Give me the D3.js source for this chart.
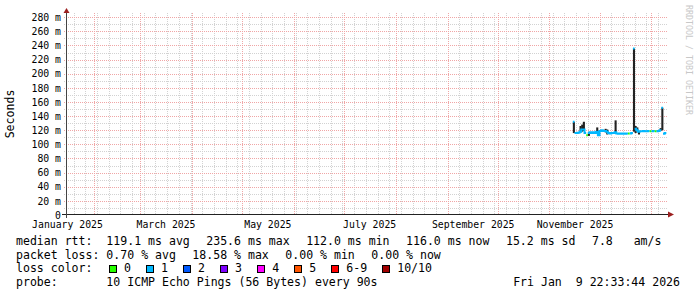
<!DOCTYPE html>
<html>
<head>
<meta charset="utf-8">
<script src="https://cdn.jsdelivr.net/npm/d3@7"></script>
<style>
  body { margin: 0; background: #fff; }
  text { font-family: "DejaVu Sans Mono", monospace; fill: #000; white-space: pre; }
</style>
</head>
<body>
<script>
// time range of the graph (360 days ending Jan 2026)
const startDate = new Date(2025, 0, 16);
const endDate = new Date(2026, 0, 11);

// tick labels
const xLabelMonths = ["2025-01", "2025-03", "2025-05", "2025-07", "2025-09", "2025-11"];
const yTicks = [0, 20, 40, 60, 80, 100, 120, 140, 160, 180, 200, 220, 240, 260, 280];

// one value per day, starting Nov 15 2025 (ms)
const firstDay = new Date(2025, 10, 15);
const median = [132, 116, 116, 116.5, 118, 121, 121, 116, 113, 116,
                117, 116, 117, 116, 118, 113, 119, 120, 119, 119,
                118, 116, 115.5, 116, 116, 117, 115.5, 115, 115.5, 115,
                115.5, 115, 115.5, 115.5, 115.5, 116, 235.6, 122, 120, 118,
                118.5, 118.5, 119, 118.5, 118.5, 119, 118.5, 118.5, 119, 118.5,
                118.5, 119, 120, 152, 115, 116];
const smokeLo = [116, 116, 116, 116.5, 117, 118, 119, 116, 113, 112,
                 117, 116, 117, 116, 117, 112, 119, 120, 119, 117,
                 114, 116, 115.5, 116, 116, 116, 115.5, 115, 115.5, 115,
                 115.5, 115, 115.5, 115.5, 115.5, 116, 118, 116, 119, 114,
                 118.5, 118.5, 119, 118.5, 118.5, 119, 118.5, 118.5, 119, 118.5,
                 118.5, 119, 119, 120, 115, 116];
const smokeHi = [132, 116, 116, 116.5, 126, 128, 132, 116, 113, 117,
                 117, 116, 117, 116, 124, 114, 119, 120, 119, 122,
                 121, 116, 115.5, 116, 116, 134, 115.5, 115, 115.5, 115,
                 115.5, 115, 115.5, 115.5, 115.5, 116, 235.6, 126, 124, 119,
                 118.5, 118.5, 119, 118.5, 118.5, 119, 118.5, 118.5, 119, 118.5,
                 118.5, 119, 123, 152, 115, 116];
const lossCount = [1, 1, 1, 1, 1, 1, 1, 1, 0, 1,
                   1, 1, 1, 1, 1, 1, 1, 1, 1, 1,
                   1, 1, 1, 1, 1, 1, 1, 1, 1, 1,
                   1, 1, 1, 0, 1, 1, 1, 1, 1, 1,
                   1, 1, 1, 1, 1, 1, 0, 1, 1, 0,
                   1, 1, 1, 1, 1, 1];

// legend
const lossLabels = ["0", "1", "2", "3", "4", "5", "6-9", "10/10"];
const lossColors = ["#26ff00", "#00b8ff", "#0059ff", "#7e00ff", "#ff00ff", "#ff5500", "#ff0000", "#a10000"];
const rttItems = ["median rtt:  119.1 ms avg", "235.6 ms max", "112.0 ms min", "116.0 ms now", "15.2 ms sd", "7.8   am/s"];
const lossItems = ["packet loss: 0.70 % avg", "18.58 % max", "0.00 % min", "0.00 % now"];
const probeText = "probe:       10 ICMP Echo Pings (56 Bytes) every 90s";
const stampText = "Fri Jan  9 22:33:44 2026";

const svg = d3.select("body").append("svg")
  .attr("width", 697)
  .attr("height", 297);

const x = d3.scaleTime().domain([startDate, endDate]).range([67, 668]);
const y = d3.scaleLinear().domain([0, 286]).range([215, 13]);

// grid: weekly minor, monthly major, 10/20 ms on y
let grid = svg.append("g").attr("shape-rendering", "crispEdges");
const minorColor = "#d2d2d2", majorColor = "#f0a6a6";
d3.timeMonday.range(startDate, endDate).forEach(d => {
  grid.append("line")
    .attr("x1", Math.round(x(d)) + 0.5).attr("x2", Math.round(x(d)) + 0.5)
    .attr("y1", y(286)).attr("y2", 215)
    .attr("stroke", minorColor).attr("stroke-dasharray", "1,1");
});
yTicks.forEach(v => {
  if (v == 0) return;
  let ym = Math.round(y(v - 10)) + 0.5;
  grid.append("line")
    .attr("x1", 64).attr("x2", 668).attr("y1", ym).attr("y2", ym)
    .attr("stroke", minorColor).attr("stroke-dasharray", "1,1");
});
d3.timeMonth.range(startDate, endDate).forEach(d => {
  grid.append("line")
    .attr("x1", Math.round(x(d)) + 0.5).attr("x2", Math.round(x(d)) + 0.5)
    .attr("y1", y(286)).attr("y2", 215)
    .attr("stroke", majorColor).attr("stroke-dasharray", "1,1");
});
yTicks.forEach(v => {
  if (v == 0) return;
  let yy = Math.round(y(v)) + 0.5;
  grid.append("line")
    .attr("x1", 64).attr("x2", 668).attr("y1", yy).attr("y2", yy)
    .attr("stroke", majorColor).attr("stroke-dasharray", "1,1");
});

// smoke
const days = median.map((m, i) => d3.timeDay.offset(firstDay, i));
svg.append("g").selectAll("rect")
  .data(days.filter((d, i) => smokeHi[i] > smokeLo[i]))
  .join("rect")
    .attr("x", d => x(d))
    .attr("width", d => x(d3.timeDay.offset(d, 1)) - x(d) + 0.4)
    .attr("y", d => y(smokeHi[days.indexOf(d)]))
    .attr("height", d => y(smokeLo[days.indexOf(d)]) - y(smokeHi[days.indexOf(d)]))
    .attr("fill", "#222");

// median line, coloured by loss, broken on big jumps
let paths = {};
days.forEach((d, i) => {
  let c = lossColors[lossCount[i]];
  let x0 = x(d), x1 = x(d3.timeDay.offset(d, 1));
  let prev = i > 0 && lossCount[i - 1] == lossCount[i] && Math.abs(median[i] - median[i - 1]) <= 6;
  if (!paths[c]) paths[c] = "";
  if (prev) paths[c] += "V" + y(median[i]) + "H" + x1;
  else paths[c] += "M" + x0 + "," + y(median[i]) + "H" + x1;
});
Object.keys(paths).forEach(c => {
  svg.append("path").attr("d", paths[c])
    .attr("fill", "none").attr("stroke", c).attr("stroke-width", 2);
});

// axes
const yAxis = d3.axisLeft(y).tickValues(yTicks)
  .tickFormat(v => v == 0 ? "0" : v + " m").tickSize(0).tickPadding(6);
svg.append("g").attr("transform", "translate(67,0)").call(yAxis)
  .call(g => g.select(".domain").remove())
  .selectAll("text").attr("font-size", "9.8px").attr("font-family", "DejaVu Sans Mono");

const labelDates = xLabelMonths.map(s => d3.timeDay.offset(d3.timeParse("%Y-%m")(s), 15));
const xAxis = d3.axisBottom(x).tickValues(labelDates)
  .tickFormat(d3.timeFormat("%B %Y")).tickSize(0).tickPadding(6.5);
svg.append("g").attr("transform", "translate(0,215)").call(xAxis)
  .call(g => g.select(".domain").remove())
  .selectAll("text").attr("font-size", "9.8px").attr("font-family", "DejaVu Sans Mono");

svg.append("line").attr("x1", 62).attr("x2", 669).attr("y1", 214.5).attr("y2", 214.5)
  .attr("stroke", "#222");
svg.append("line").attr("x1", 66.5).attr("x2", 66.5).attr("y1", 218).attr("y2", 12)
  .attr("stroke", "#444");
svg.append("path").attr("d", "M668,211.5L674,214.5L668,217.5Z").attr("fill", "#9c2020");
svg.append("path").attr("d", "M63.5,13L66.5,8L69.5,13Z").attr("fill", "#9c2020");

// y title
svg.append("text").attr("transform", "translate(14,114) rotate(-90)")
  .attr("text-anchor", "middle").attr("font-size", "11.55px").text("Seconds");

// watermark
svg.append("text").attr("transform", "translate(686,5) rotate(90)")
  .attr("font-size", "9.5px").attr("textLength", 110).attr("lengthAdjust", "spacingAndGlyphs")
  .style("fill", "#c8c8c8").text("RRDTOOL / TOBI OETIKER");

// legend
const cw = 6.95, gap = 16.5, fs = "11.55px";
function legendLine(items, yBase) {
  let lx = 16;
  items.forEach(t => {
    svg.append("text").attr("x", lx).attr("y", yBase).attr("font-size", fs).text(t);
    lx += t.length * cw + gap;
  });
}
legendLine(rttItems, 245);
legendLine(lossItems, 258.7);

svg.append("text").attr("x", 16).attr("y", 272.4).attr("font-size", fs).text("loss color:");
let bx = 16 + 11 * cw + gap;
lossLabels.forEach((lab, i) => {
  svg.append("rect").attr("x", Math.round(bx) + 0.5).attr("y", 265.5).attr("width", 7).attr("height", 7)
    .attr("fill", lossColors[i]).attr("stroke", "#000");
  svg.append("text").attr("x", bx + 15).attr("y", 272.4).attr("font-size", fs).text(lab);
  bx += 30.1 + lab.length * cw;
});

svg.append("text").attr("x", 16).attr("y", 286).attr("font-size", fs).text(probeText);
svg.append("text").attr("x", 680).attr("y", 286).attr("text-anchor", "end").attr("font-size", fs).text(stampText);
</script>
</body>
</html>
